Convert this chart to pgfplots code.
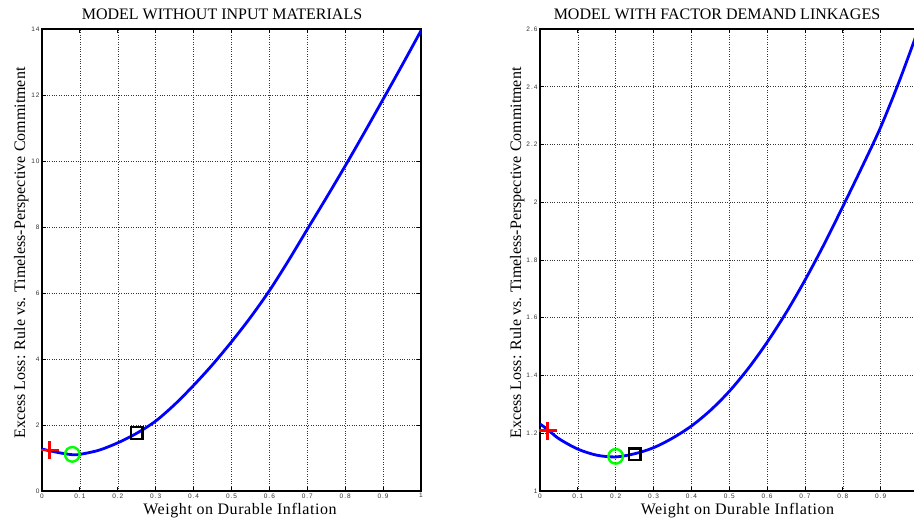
\documentclass[border=0pt]{standalone}
\usepackage{pgfplots}
\pgfplotsset{compat=1.18}
\usepackage{fontspec}
\setmainfont{Liberation Serif}
\newfontfamily\tickfont[LetterSpace=15]{Liberation Sans}
\newfontfamily\labfont[LetterSpace=3.5]{Liberation Serif}
\definecolor{mblue}{rgb}{0,0,1}
\definecolor{mred}{rgb}{1,0,0}
\definecolor{mgreen}{rgb}{0,1,0}

\pgfplotstableread{
x y
0 1.27
0.02 1.22
0.05 1.15
0.08 1.10
0.1 1.11
0.15 1.235
0.2 1.46
0.25 1.75
0.3 2.12
0.35 2.62
0.4 3.2
0.45 3.83
0.5 4.52
0.55 5.26
0.6 6.07
0.65 6.975
0.7 7.93
0.75 8.88
0.8 9.85
0.85 10.85
0.9 11.87
0.95 12.9
1.0 13.95
}\lefttab

\pgfplotstableread{
x y
0 1.232
0.02 1.213
0.05 1.181
0.1 1.145
0.15 1.124
0.2 1.118
0.25 1.129
0.3 1.150
0.35 1.183
0.4 1.225
0.45 1.279
0.5 1.345
0.55 1.424
0.6 1.515
0.65 1.617
0.7 1.73
0.75 1.853
0.8 1.985
0.85 2.12
0.9 2.26
0.95 2.422
1.0 2.6
}\righttab

\pgfplotsset{
 mstyle/.style={
  scale only axis, height=462pt,
  xmin=0, xmax=1,
  xtick={0,0.1,0.2,0.3,0.4,0.5,0.6,0.7,0.8,0.9,1},
  grid=major, grid style={dotted, black!80, line width=0.6pt},
  axis line style={line width=1.3pt},
  tick align=inside, major tick length=4pt,
  tick style={black, line width=0.8pt},
  ticklabel style={font=\tickfont\fontsize{6.5}{7}\selectfont, text=black!80},
  /pgf/number format/assume math mode=true,
  xticklabel style={yshift=1pt},
  yticklabel style={xshift=1pt},
 }
}

\begin{document}
\begin{tikzpicture}[x=1pt,y=1pt]
\path[use as bounding box] (0,0) rectangle (914,521);

\begin{axis}[mstyle, width=379pt, at={(42pt,30pt)}, anchor=south west,
  ymin=0, ymax=14, ytick={0,2,4,6,8,10,12,14}]
\addplot[mblue, line width=2.8pt, smooth] table[x=x,y=y]{\lefttab};
\addplot[only marks, mark=+, mark size=9pt, mred, mark options={line width=2.4pt}] coordinates {(0.02,1.24)};
\addplot[only marks, mark=o, mark size=7.3pt, mgreen, mark options={line width=2.4pt}] coordinates {(0.08,1.11)};
\addplot[only marks, mark=square, mark size=5.8pt, black, mark options={line width=2.4pt}] coordinates {(0.25,1.76)};
\end{axis}

\begin{axis}[mstyle, width=378.5pt, at={(540pt,30pt)}, anchor=south west,
  xticklabels={0,0.1,0.2,0.3,0.4,0.5,0.6,0.7,0.8,0.9,{}},
  ymin=1, ymax=2.6, ytick={1,1.2,1.4,1.6,1.8,2,2.2,2.4,2.6}]
\addplot[mblue, line width=2.8pt, smooth] table[x=x,y=y]{\righttab};
\addplot[only marks, mark=+, mark size=9pt, mred, mark options={line width=2.4pt}] coordinates {(0.02,1.209)};
\addplot[only marks, mark=o, mark size=7.3pt, mgreen, mark options={line width=2.4pt}] coordinates {(0.2,1.12)};
\addplot[only marks, mark=square, mark size=5.8pt, black, mark options={line width=2.4pt}] coordinates {(0.25,1.127)};
\end{axis}

\node[anchor=base, font=\fontsize{16}{18}\selectfont] at (222,501) {MODEL WITHOUT INPUT MATERIALS};
\node[anchor=base, font=\fontsize{16}{18}\selectfont] at (717,501) {MODEL WITH FACTOR DEMAND LINKAGES};
\node[anchor=base, font=\labfont\fontsize{16}{18}\selectfont] at (240,6) {Weight on Durable Inflation};
\node[anchor=base, font=\labfont\fontsize{16}{18}\selectfont] at (737.5,6) {Weight on Durable Inflation};
\node[anchor=base, rotate=90, font=\fontsize{16}{18}\selectfont] at (25,268) {Excess Loss: Rule vs. Timeless-Perspective Commitment};
\node[anchor=base, rotate=90, font=\fontsize{16}{18}\selectfont] at (521,268) {Excess Loss: Rule vs. Timeless-Perspective Commitment};
\end{tikzpicture}
\end{document}
